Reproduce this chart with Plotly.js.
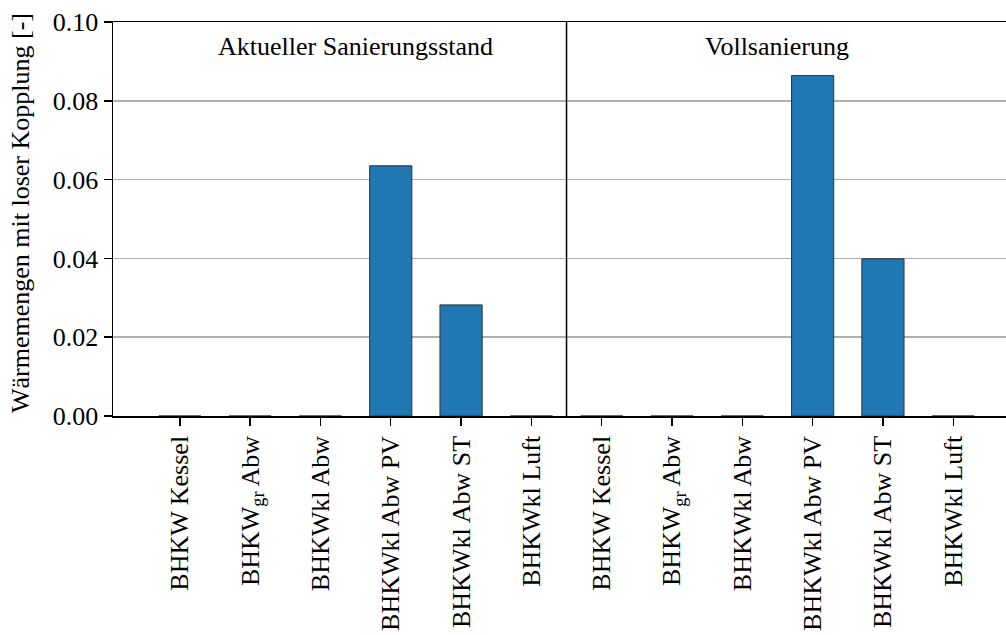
<!DOCTYPE html>
<html>
<head>
<meta charset="utf-8">
<script src="https://cdn.plot.ly/plotly-3.0.1.min.js"></script>
<style>html,body{margin:0;padding:0;background:#fff;}</style>
</head>
<body>
<div id="chart" style="width:1006px;height:635px;"></div>
<script>
const categories = ["BHKW Kessel", "BHKW<sub>gr</sub> Abw", "BHKWkl Abw", "BHKWkl Abw PV", "BHKWkl Abw ST", "BHKWkl Luft"];
const groups = ["Aktueller Sanierungsstand", "Vollsanierung"];
const valuesAktuell = [0, 0, 0, 0.0635, 0.0282, 0];
const valuesVoll = [0, 0, 0, 0.0864, 0.0399, 0];
const yTicks = [0, 0.02, 0.04, 0.06, 0.08, 0.10];
const yTickLabels = ["0.00", "0.02", "0.04", "0.06", "0.08", "0.10"];

const allValues = valuesAktuell.concat(valuesVoll);
const allLabels = categories.concat(categories);
const xIdx = allValues.map((_, i) => i);

const FONT = "Liberation Serif, Times New Roman, serif";
const FS = 26;

const trace = {
  type: 'bar',
  x: xIdx,
  y: allValues,
  width: 0.6,
  marker: {color: '#1f77b4', line: {color: '#333333', width: 1}},
  hoverinfo: 'skip'
};

const nCat = categories.length;
const layout = {
  width: 1006, height: 635,
  margin: {l: 113, r: 0, t: 22, b: 219},
  paper_bgcolor: '#ffffff', plot_bgcolor: '#ffffff',
  showlegend: false,
  font: {family: FONT, size: FS, color: '#000'},
  xaxis: {
    range: [-0.95, 11.75],
    tickvals: xIdx, ticktext: allLabels, tickangle: -90,
    ticks: 'outside', ticklen: 8, tickwidth: 1.5, tickcolor: '#000',
    showline: true, linecolor: '#000', linewidth: 1.5, mirror: true,
    showgrid: false, zeroline: false,
    tickfont: {family: FONT, size: FS, color: '#000'}
  },
  yaxis: {
    range: [0, 0.10],
    tickvals: yTicks, ticktext: yTickLabels,
    ticks: 'outside', ticklen: 8, tickwidth: 1.5, tickcolor: '#000',
    showline: true, linecolor: '#000', linewidth: 1.5, mirror: false,
    showgrid: true, gridcolor: '#b0b0b0', gridwidth: 1.5,
    zeroline: false,
    tickfont: {family: FONT, size: FS, color: '#000'}
  },
  shapes: [{
    type: 'line', xref: 'x', yref: 'paper',
    x0: nCat - 0.5, x1: nCat - 0.5, y0: 0, y1: 1,
    line: {color: '#000', width: 1.5}
  }],
  annotations: [
    {text: groups[0], xref: 'x', yref: 'paper', x: (nCat - 1) / 2, y: 0.939,
     xanchor: 'center', yanchor: 'middle', showarrow: false,
     font: {family: FONT, size: FS, color: '#000'}},
    {text: groups[1], xref: 'x', yref: 'paper', x: nCat + (nCat - 1) / 2, y: 0.939,
     xanchor: 'center', yanchor: 'middle', showarrow: false,
     font: {family: FONT, size: FS, color: '#000'}},
    {text: 'Wärmemengen mit loser Kopplung [-]', xref: 'paper', yref: 'paper',
     x: 0, y: 0.5, xshift: -93, yshift: 6, textangle: -90,
     xanchor: 'center', yanchor: 'middle', showarrow: false,
     font: {family: FONT, size: FS, color: '#000'}}
  ]
};

Plotly.newPlot('chart', [trace], layout, {displayModeBar: false, staticPlot: true});
</script>
</body>
</html>
